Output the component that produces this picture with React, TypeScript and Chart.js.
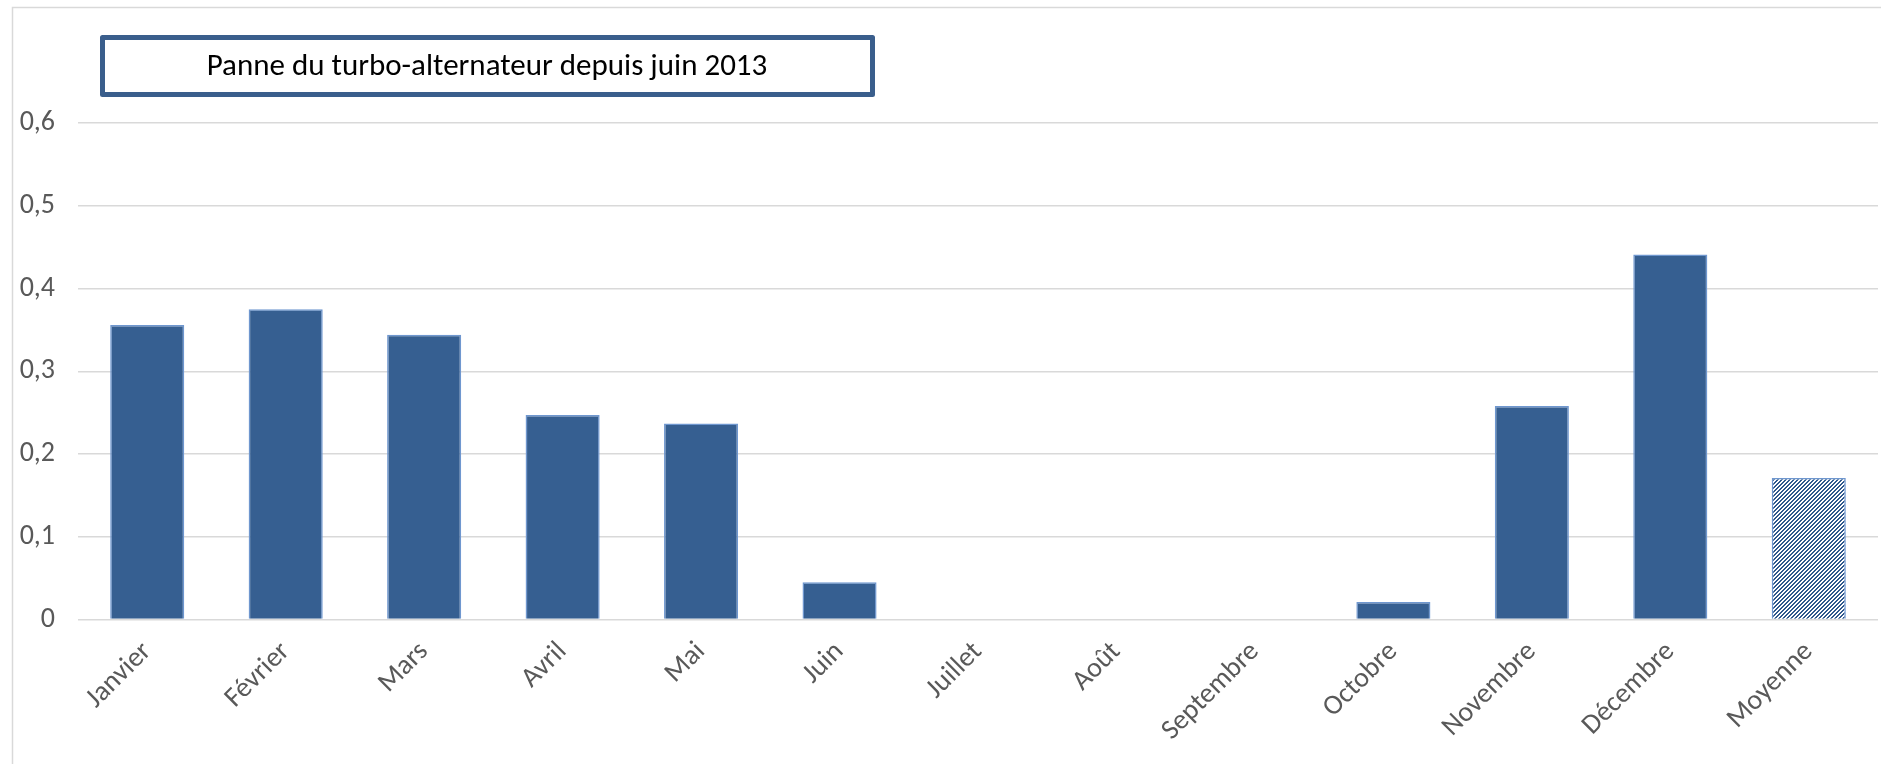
import React, { useEffect, useRef } from "react";
import { Chart, registerables } from "chart.js";

Chart.register(...registerables);

const titleText = "Panne du turbo-alternateur depuis juin 2013";
const categories = [
  "Janvier",
  "Février",
  "Mars",
  "Avril",
  "Mai",
  "Juin",
  "Juillet",
  "Août",
  "Septembre",
  "Octobre",
  "Novembre",
  "Décembre",
  "Moyenne",
];
const values = [0.356, 0.375, 0.344, 0.247, 0.237, 0.045, 0, 0, 0, 0.021, 0.258, 0.441, 0.171];
const patternedCategories = ["Moyenne"];
const yMin = 0;
const yMax = 0.6;
const yStep = 0.1;

const W = 1881;
const H = 764;
const FONT = "Carlito, Calibri, Lato, 'Open Sans', sans-serif";
const BAR = "#365f91";
const BAR_EDGE = "#6f97cf";
const GRID = "#d9d9d9";
const TEXT = "#595959";

function makePattern(): CanvasPattern | string {
  const c = document.createElement("canvas");
  c.width = 4;
  c.height = 4;
  const ctx = c.getContext("2d");
  if (!ctx) return BAR;
  const img = ctx.createImageData(4, 4);
  for (let y = 0; y < 4; y++) {
    for (let x = 0; x < 4; x++) {
      const i = (y * 4 + x) * 4;
      const dark = (x + y) % 4 < 2;
      img.data[i] = dark ? 0x2f : 255;
      img.data[i + 1] = dark ? 0x58 : 255;
      img.data[i + 2] = dark ? 0x8c : 255;
      img.data[i + 3] = 255;
    }
  }
  ctx.putImageData(img, 0, 0);
  const p = ctx.createPattern(c, "repeat");
  return p || BAR;
}

const framePlugin = {
  id: "frame",
  beforeDraw(chart: any) {
    const ctx = chart.ctx;
    ctx.save();
    ctx.fillStyle = "#ffffff";
    ctx.fillRect(0, 0, W, H);
    ctx.strokeStyle = GRID;
    ctx.lineWidth = 1.5;
    ctx.strokeRect(12.5, 7.5, W + 20, H + 20);
    ctx.restore();
  },
  afterDraw(chart: any) {
    const ctx = chart.ctx;
    ctx.save();
    ctx.fillStyle = "#ffffff";
    ctx.fillRect(102.5, 37.5, 770, 57);
    ctx.strokeStyle = "#3a5e8c";
    ctx.lineWidth = 5;
    ctx.lineJoin = "round";
    ctx.strokeRect(102.5, 37.5, 770, 57);
    ctx.fillStyle = "#000000";
    ctx.font = `31px ${FONT}`;
    ctx.textAlign = "center";
    ctx.textBaseline = "middle";
    ctx.fillText(titleText, 487, 67);
    ctx.restore();
  },
};

export default function App() {
  const ref = useRef<HTMLCanvasElement | null>(null);

  useEffect(() => {
    const canvas = ref.current;
    if (!canvas) return;
    const pattern = makePattern();
    const colors = categories.map((c) => (patternedCategories.includes(c) ? pattern : BAR));

    const chart = new Chart(canvas, {
      type: "bar",
      data: {
        labels: categories,
        datasets: [
          {
            data: values,
            backgroundColor: colors as any,
            borderColor: BAR_EDGE,
            borderWidth: 1.5,
            barPercentage: 0.535,
            categoryPercentage: 1,
          },
        ],
      },
      plugins: [framePlugin],
      options: {
        responsive: false,
        animation: false,
        devicePixelRatio: 1,
        layout: { padding: { top: 123, left: 0, right: 3, bottom: 0 } },
        plugins: {
          legend: { display: false },
          tooltip: { enabled: false },
          title: { display: false },
        },
        scales: {
          x: {
            grid: { display: false, drawTicks: false },
            border: { display: false },
            ticks: {
              autoSkip: false,
              minRotation: 45,
              maxRotation: 45,
              padding: 16,
              color: TEXT,
              font: { family: FONT, size: 28 },
            },
            afterFit: (scale: any) => {
              scale.height = 144.5;
            },
          },
          y: {
            min: yMin,
            max: yMax,
            grid: { color: GRID, lineWidth: 1.5, drawTicks: false },
            border: { display: false },
            ticks: {
              stepSize: yStep,
              padding: 23,
              color: TEXT,
              font: { family: FONT, size: 28 },
              callback: (v: any) => (Number(v) === 0 ? "0" : Number(v).toFixed(1).replace(".", ",")),
            },
            afterFit: (scale: any) => {
              scale.width = 78;
            },
          },
        },
      },
    });
    return () => chart.destroy();
  }, []);

  return (
    <div style={{ position: "fixed", left: 0, top: 0, width: W, height: H, background: "#fff" }}>
      <canvas ref={ref} width={W} height={H} style={{ width: W, height: H, display: "block" }} />
    </div>
  );
}
